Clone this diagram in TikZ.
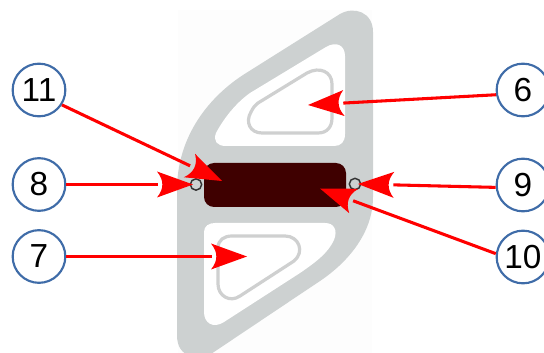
\documentclass[tikz,border=0pt]{standalone}
\usepackage{fontspec}
\setmainfont{Liberation Sans}
\usetikzlibrary{arrows.meta}
\definecolor{bodygray}{HTML}{CDD1D1}
\definecolor{loopgray}{HTML}{CFD0D0}
\definecolor{darkred}{HTML}{3F0000}
\definecolor{ringblue}{HTML}{3F6CA8}
\definecolor{faint}{HTML}{FDFDFD}
\pgfdeclarearrow{
  name=Swept,
  setup code={
    \pgfarrowssettipend{0pt}
    \pgfarrowssetlineend{-26.5pt}
    \pgfarrowssetvisualbackend{-23pt}
    \pgfarrowssetbackend{-27pt}
    \pgfarrowshullpoint{0pt}{0pt}
    \pgfarrowshullpoint{-27pt}{9.75pt}
    \pgfarrowshullpoint{-27pt}{-9.75pt}
  },
  drawing code={
    \pgfpathmoveto{\pgfqpoint{0pt}{0pt}}
    \pgfpathlineto{\pgfqpoint{-27pt}{9.75pt}}
    \pgfpathcurveto{\pgfqpoint{-24pt}{6pt}}{\pgfqpoint{-23pt}{3pt}}{\pgfqpoint{-23pt}{0pt}}
    \pgfpathcurveto{\pgfqpoint{-23pt}{-3pt}}{\pgfqpoint{-24pt}{-6pt}}{\pgfqpoint{-27pt}{-9.75pt}}
    \pgfpathclose
    \pgfusepathqfill
  }
}
\tikzset{
  label circle/.style={circle,draw=ringblue,line width=1.6pt,fill=white,minimum size=39.5pt,inner sep=0pt,font=\fontsize{25}{25}\selectfont},
  connector/.style={draw=red,fill=red,line width=2.3pt,-{Swept[red]}},
  pin ring/.style={circle,draw=black!80,line width=1.1pt,minimum size=8.5pt,inner sep=0pt},
  loop line/.style={draw=loopgray,line width=2.4pt,line join=round},
}
\begin{document}
\begin{tikzpicture}[x=0.75pt,y=-0.75pt]
\clip (0,0) rectangle (544,353);
\useasboundingbox (0,0) rectangle (544,353);
\fill[faint] (178,10) rectangle (372,353);
% body
\fill[bodygray] (243,75) -- (340,14) .. controls (354,6) and (373,12) .. (373,32)
  -- (373,197) .. controls (373,235) and (345,265) .. (317,283) -- (205,358)
  -- (190,356) .. controls (182,353) and (177,347) .. (177,335)
  -- (177,190) .. controls (177,140) and (205,100) .. (243,75) -- cycle;
% upper window
\fill[white] (250,93) -- (326,47) .. controls (336,41) and (345,45) .. (345,56)
  -- (345,134) .. controls (345,142) and (341,146) .. (334,146)
  -- (226,146) .. controls (217,146) and (213,141) .. (216,133)
  .. controls (224,118) and (236,103) .. (250,93) -- cycle;
% lower window
\fill[white] (204,232) .. controls (204,226) and (209,223) .. (215,223)
  -- (325,223) .. controls (334,223) and (338,230) .. (334,240)
  .. controls (328,253) and (316,262) .. (300,273)
  -- (224,322) .. controls (213,329) and (204,323) .. (204,312) -- cycle;
% loops
\draw[loop line] (258,103) -- (307,73) .. controls (320,66) and (332,72) .. (332,84)
  -- (332,118) .. controls (332,127) and (327,133) .. (318,133)
  -- (262,133) .. controls (250,133) and (245,122) .. (251,112)
  .. controls (253,108) and (255,105) .. (258,103) -- cycle;
\draw[loop line] (218,248) .. controls (218,240) and (224,236) .. (232,236)
  -- (285,236) .. controls (299,236) and (305,252) .. (294,261)
  -- (240,296) .. controls (230,303) and (218,296) .. (218,284) -- cycle;
% dark plate
\fill[darkred,rounded corners=7.5pt] (204,163) rectangle (346,207);
% pins
\node[pin ring] (pinL) at (196,184.5) {};
\node[pin ring] (pinR) at (355,184) {};
% labels
\node[label circle] (n11) at (39,90) {11};
\node[label circle] (n8) at (39,184.5) {8};
\node[label circle] (n7) at (39,256.5) {7};
\node[label circle] (n6) at (523,90) {6};
\node[label circle] (n9) at (523,185) {9};
\node[label circle] (n10) at (523,257) {10};
% targets
\coordinate (t11) at (222,181);
\coordinate (t8) at (193,184.5);
\coordinate (t7) at (247,256.5);
\coordinate (t6) at (308,105);
\coordinate (t9) at (358,184);
\coordinate (t10) at (320,188.5);
\foreach \a/\b in {n11.-33/t11,n8/t8,n7/t7,n6.190/t6,n9.185/t9,n10.173/t10}
  \draw[connector] (\a) -- (\b);
\end{tikzpicture}
\end{document}
